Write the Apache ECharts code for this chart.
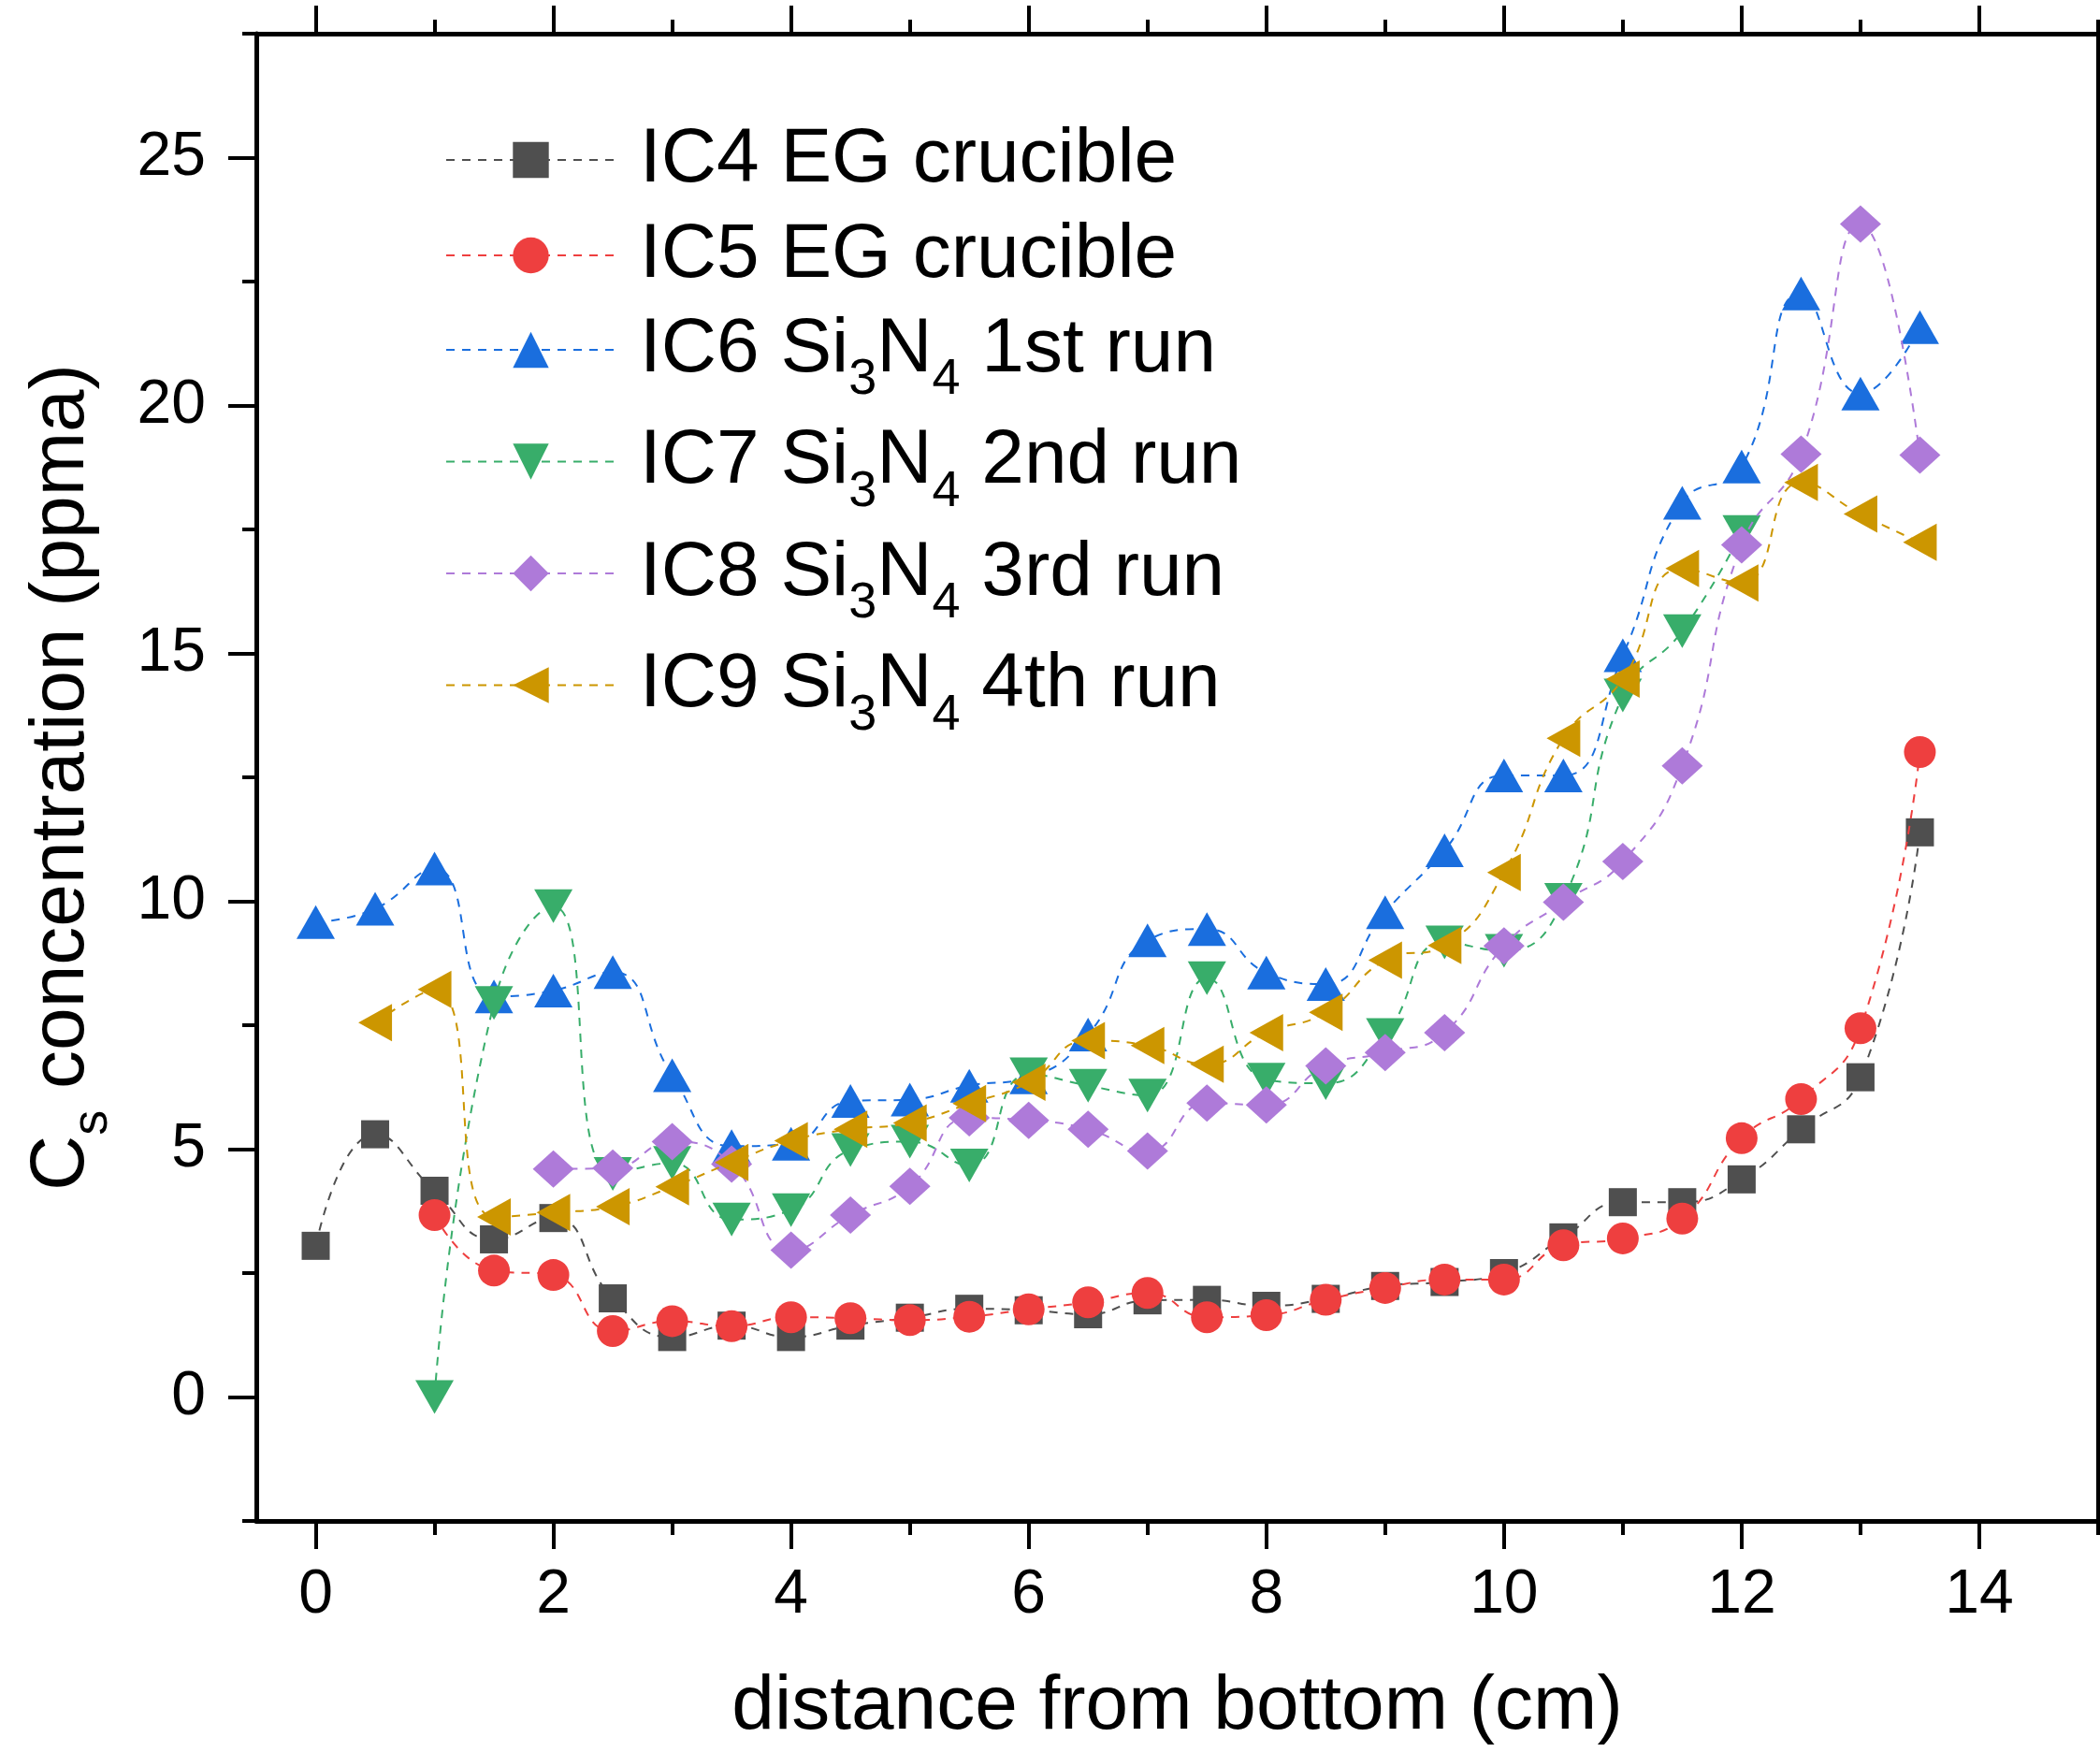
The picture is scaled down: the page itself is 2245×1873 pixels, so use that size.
<!DOCTYPE html>
<html>
<head>
<meta charset="utf-8">
<script src="https://cdn.jsdelivr.net/npm/echarts@6/dist/echarts.min.js"></script>
<style>
  html, body { margin: 0; padding: 0; background: #ffffff; }
  #chart { width: 2245px; height: 1873px; }
</style>
</head>
<body>
<div id="chart"></div>
<script>
// Sampling positions along the ingot (cm from bottom)
const distance = [0, 0.5, 1, 1.5, 2, 2.5, 3, 3.5, 4, 4.5, 5, 5.5, 6, 6.5, 7,
                  7.5, 8, 8.5, 9, 9.5, 10, 10.5, 11, 11.5, 12, 12.5, 13, 13.5];

// Cs concentration (ppma); null where no sample was taken
const ic4 = [3.05, 5.30, 4.16, 3.18, 3.61, 1.99, 1.21, 1.44, 1.21, 1.44, 1.60, 1.78, 1.75, 1.67,
             1.95, 1.96, 1.84, 1.98, 2.24, 2.32, 2.50, 3.22, 3.93, 3.93, 4.39, 5.40, 6.45, 11.39];
const ic5 = [null, null, 3.67, 2.55, 2.46, 1.33, 1.53, 1.43, 1.61, 1.59, 1.55, 1.62, 1.77, 1.91,
             2.10, 1.61, 1.65, 1.96, 2.20, 2.37, 2.37, 3.06, 3.20, 3.60, 5.22, 6.01, 7.44, 13.01];
const ic6 = [9.58, 9.85, 10.66, 8.08, 8.20, 8.57, 6.49, 5.06, 5.11, 5.97, 6.00, 6.28, 6.45, 7.31,
             9.21, 9.44, 8.56, 8.33, 9.78, 11.03, 12.54, 12.54, 14.96, 18.04, 18.77, 22.26, 20.24, 21.58];
const ic7 = [null, null, 0.00, 7.95, 9.90, 4.50, 4.72, 3.58, 3.77, 4.98, 5.15, 4.67, 6.51, 6.28,
             6.08, 8.45, 6.40, 6.33, 7.30, 9.17, 9.00, 10.03, 14.15, 15.45, 17.45, null, null, null];
const ic8 = [null, null, null, null, 4.60, 4.62, 5.15, 4.70, 2.96, 3.67, 4.25, 5.63, 5.58, 5.40,
             4.96, 5.93, 5.89, 6.68, 6.95, 7.35, 9.10, 9.98, 10.80, 12.73, 17.19, 19.02, 23.66, 19.00];
const ic9 = [null, 7.55, 8.22, 3.63, 3.72, 3.84, 4.24, 4.73, 5.17, 5.40, 5.53, 5.92, 6.35, 7.19,
             7.09, 6.71, 7.35, 7.76, 8.81, 9.11, 10.58, 13.29, 14.48, 16.71, 16.42, 18.45, 17.81, 17.24];

const seriesNames = ['IC4 EG crucible', 'IC5 EG crucible', 'IC6 Si3N4 1st run',
                     'IC7 Si3N4 2nd run', 'IC8 Si3N4 3rd run', 'IC9 Si3N4 4th run'];

// Axis ticks and labels
const xMajorTicks = [0, 2, 4, 6, 8, 10, 12, 14];
const xMinorTicks = [1, 3, 5, 7, 9, 11, 13, 15];
const yMajorTicks = [0, 5, 10, 15, 20, 25];
const yMinorTicks = [-2.5, 2.5, 7.5, 12.5, 17.5, 22.5, 27.5];

const FONT = '"Liberation Sans", Arial, sans-serif';
const BLACK = '#000000';

const colors = ['#4f4f4f', '#ee3f3f', '#1a6ede', '#38ad6a', '#ae7ad9', '#cc9600'];
const symbols = ['rect', 'circle', 'triangle', 'path://M0,0L20,0L10,18Z', 'diamond', 'path://M0,10L18,0L18,20Z'];
const symbolSizes = [30, 34, [41, 36], [41, 36], [44, 40], [36, 40]];
const values = [ic4, ic5, ic6, ic7, ic8, ic9];

function pairs(arr) {
  const out = [];
  distance.forEach(function (d, i) { if (arr[i] != null) out.push([d, arr[i]]); });
  return out;
}

const series = seriesNames.map(function (name, k) {
  return {
    name: name,
    type: 'line',
    xAxisIndex: 0,
    yAxisIndex: 0,
    data: pairs(values[k]),
    smooth: true,
    symbol: symbols[k],
    symbolSize: symbolSizes[k],
    showAllSymbol: true,
    itemStyle: { color: colors[k], borderWidth: 0 },
    lineStyle: { color: colors[k], width: 2, type: [9, 8] },
    emphasis: { disabled: true },
    z: 2 + k
  };
});

// Legend labels with subscripts
const legendRich = {
  g: { width: 21, fontSize: 10 },
  a: { fontSize: 82, fontFamily: FONT, color: BLACK, lineHeight: 90 },
  s: { fontSize: 54, fontFamily: FONT, color: BLACK, padding: [65, 0, 0, 0] }
};
const legendLabel = {
  'IC4 EG crucible': '{g| }{a|IC4 EG crucible}',
  'IC5 EG crucible': '{g| }{a|IC5 EG crucible}',
  'IC6 Si3N4 1st run': '{g| }{a|IC6 Si}{s|3}{a|N}{s|4}{a| 1st run}',
  'IC7 Si3N4 2nd run': '{g| }{a|IC7 Si}{s|3}{a|N}{s|4}{a| 2nd run}',
  'IC8 Si3N4 3rd run': '{g| }{a|IC8 Si}{s|3}{a|N}{s|4}{a| 3rd run}',
  'IC9 Si3N4 4th run': '{g| }{a|IC9 Si}{s|3}{a|N}{s|4}{a| 4th run}'
};
function legendBlock(names, top, gap) {
  return {
    data: names,
    orient: 'vertical',
    left: 476,
    top: top,
    padding: 0,
    itemGap: gap,
    itemWidth: 181,
    itemHeight: 48,
    selectedMode: false,
    formatter: function (n) { return legendLabel[n]; },
    textStyle: { rich: legendRich }
  };
}

const axisLineStyle = { color: BLACK, width: 5 };
const tickStyle = { color: BLACK, width: 4 };

function xAxisDef(position, major, showLine, withLabels) {
  const def = {
    type: 'value',
    gridIndex: 0,
    position: position,
    min: -0.5,
    max: 15,
    axisLine: { show: showLine, onZero: false, lineStyle: axisLineStyle },
    axisTick: { show: true, inside: false, length: major ? 30 : 15,
                customValues: major ? xMajorTicks : xMinorTicks, lineStyle: tickStyle },
    axisLabel: { show: false },
    splitLine: { show: false }
  };
  if (withLabels) {
    def.axisLabel = { show: true, customValues: xMajorTicks, fontSize: 66, fontFamily: FONT,
                      color: BLACK, margin: 47 };
    def.name = 'distance from bottom (cm)';
    def.nameLocation = 'middle';
    def.nameGap = 158;
    def.nameTextStyle = { fontSize: 82, fontFamily: FONT, color: BLACK };
  }
  return def;
}

function yAxisDef(position, major, showLine, showTicks, withLabels) {
  const def = {
    type: 'value',
    gridIndex: 0,
    position: position,
    min: -2.5,
    max: 27.5,
    axisLine: { show: showLine, onZero: false, lineStyle: axisLineStyle },
    axisTick: { show: showTicks, inside: false, length: major ? 30 : 15,
                customValues: major ? yMajorTicks : yMinorTicks, lineStyle: tickStyle },
    axisLabel: { show: false },
    splitLine: { show: false }
  };
  if (withLabels) {
    def.axisLabel = { show: true, customValues: yMajorTicks, fontSize: 66, fontFamily: FONT,
                      color: BLACK, margin: 54 };
    def.name = '{a|C}{s|s}{a| concentration (ppma)}';
    def.nameLocation = 'middle';
    def.nameRotate = 90;
    def.nameGap = 148;
    def.nameTextStyle = {
      color: BLACK,
      rich: {
        a: { fontSize: 82, fontFamily: FONT, color: BLACK },
        s: { fontSize: 54, fontFamily: FONT, color: BLACK, padding: [65, 0, 0, 0] }
      }
    };
  }
  return def;
}

const chart = echarts.init(document.getElementById('chart'), null, { renderer: 'canvas' });
chart.setOption({
  animation: false,
  backgroundColor: '#ffffff',
  grid: { left: 274, top: 36, width: 1969, height: 1590, containLabel: false },
  legend: [
    legendBlock(seriesNames.slice(0, 2), 130, 20),
    legendBlock(seriesNames.slice(2), 333, 19)
  ],
  xAxis: [
    xAxisDef('bottom', true, true, true),
    xAxisDef('bottom', false, false, false),
    xAxisDef('top', true, true, false),
    xAxisDef('top', false, false, false)
  ],
  yAxis: [
    yAxisDef('left', true, true, true, true),
    yAxisDef('left', false, false, true, false),
    yAxisDef('right', true, true, false, false)
  ],
  series: series
});
</script>
</body>
</html>
